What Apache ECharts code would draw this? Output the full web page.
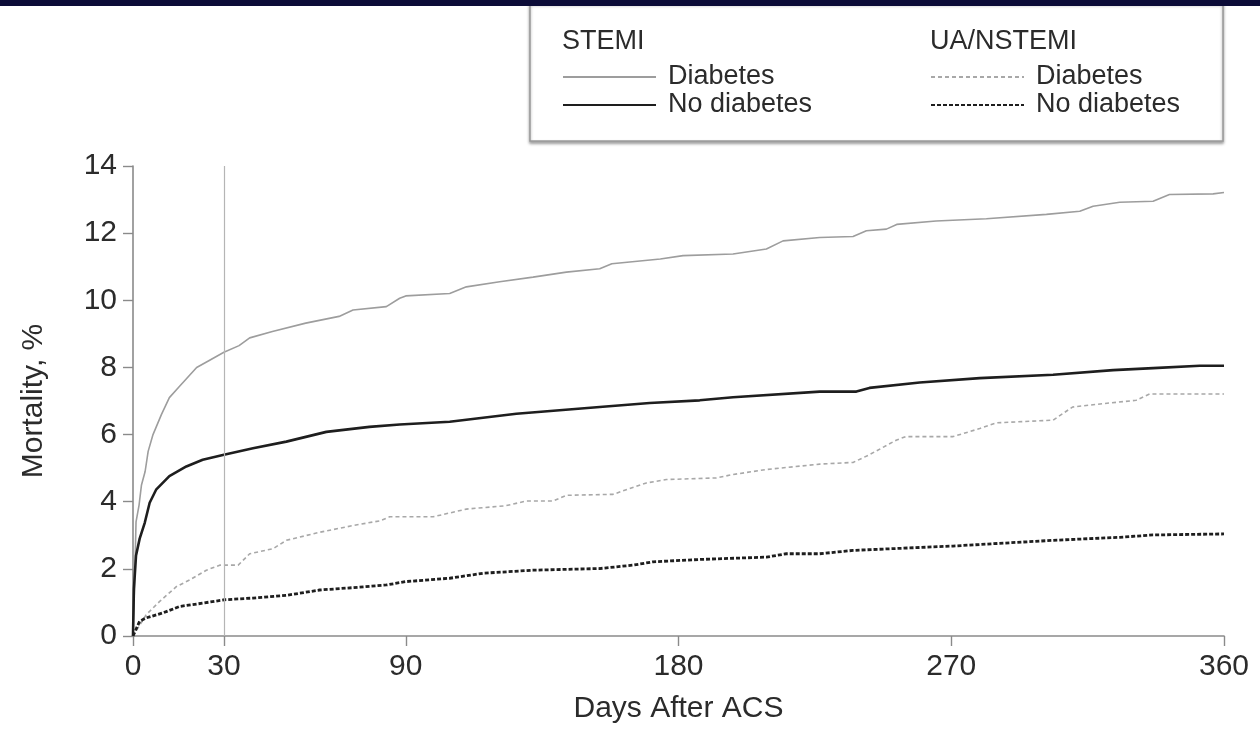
<!DOCTYPE html>
<html>
<head>
<meta charset="utf-8">
<script src="https://cdn.jsdelivr.net/npm/echarts@6.0.0/dist/echarts.min.js"></script>
<style>
html,body{margin:0;padding:0;background:#fff;}
#chart{width:1260px;height:729px;}
</style>
</head>
<body>
<div id="chart"></div>
<script>
// ---- data ----
const xTickValues = [0, 30, 90, 180, 270, 360];
const yTickValues = [0, 2, 4, 6, 8, 10, 12, 14];
const legendGroups = ['STEMI', 'UA/NSTEMI'];
const seriesLabels = ['Diabetes', 'No diabetes'];
const xAxisTitle = 'Days After ACS';
const yAxisTitle = 'Mortality, %';

// [day, mortality %]
const stemiDiabetes = [[0,0],[0.5,1.5],[1,3.4],[2,3.9],[2.8,4.5],[4,4.9],[5,5.5],[6.6,6.0],[9.4,6.6],[12,7.1],[15,7.4],[18,7.7],[21,8.0],[25,8.2],[30,8.45],[35,8.65],[38.5,8.88],[46,9.07],[57,9.32],[68,9.52],[72.6,9.71],[83.6,9.81],[88,10.06],[90,10.13],[104.5,10.2],[110,10.4],[121,10.55],[132,10.69],[143,10.84],[154,10.94],[158,11.09],[174,11.23],[181.5,11.33],[198,11.38],[209,11.53],[214.5,11.77],[226.6,11.87],[237.6,11.9],[242,12.07],[248.6,12.12],[252,12.26],[265,12.36],[281.6,12.43],[301.4,12.56],[312.4,12.65],[316.8,12.8],[325.6,12.92],[336.6,12.95],[342,13.15],[356.4,13.17],[360,13.21]];
const stemiNoDiabetes = [[0,0],[0.3,1.4],[1,2.4],[2.2,2.9],[3.9,3.38],[5.5,3.97],[7.7,4.37],[12,4.76],[17.6,5.05],[23,5.25],[30,5.4],[39.6,5.59],[50.6,5.79],[63.8,6.08],[78,6.23],[88,6.3],[104.5,6.38],[126.5,6.62],[154,6.82],[170.5,6.94],[187,7.02],[198,7.11],[226.6,7.28],[238.7,7.28],[243,7.39],[259.6,7.55],[279.4,7.68],[303.6,7.78],[323.4,7.92],[336.6,7.98],[352,8.05],[360,8.05]];
const nstemiDiabetes = [[0,0],[4.4,0.64],[8.8,1.03],[14.3,1.47],[18.7,1.67],[24.2,1.96],[28.6,2.11],[34.7,2.11],[38.5,2.45],[46.2,2.6],[50.6,2.85],[61.6,3.09],[72.6,3.29],[81.4,3.43],[84.7,3.55],[99,3.55],[110,3.78],[123,3.88],[129.8,4.02],[138.6,4.02],[143,4.19],[158.4,4.22],[169.4,4.56],[176,4.66],[192.5,4.71],[198,4.81],[209,4.96],[226.6,5.12],[237.6,5.17],[243,5.4],[252,5.84],[255,5.94],[270.6,5.94],[279.4,6.18],[285,6.35],[303.6,6.43],[310,6.82],[320,6.92],[331,7.02],[335.5,7.21],[360,7.21]];
const nstemiNoDiabetes = [[0,0],[2.2,0.44],[4.4,0.54],[9.9,0.69],[15.4,0.88],[23.1,0.98],[30.2,1.08],[39.6,1.13],[50.6,1.21],[61.6,1.37],[72.6,1.44],[83.6,1.52],[90,1.62],[104.5,1.72],[115.5,1.87],[132,1.96],[154,2.01],[165,2.11],[171.6,2.21],[187,2.28],[209,2.35],[215.6,2.45],[226.6,2.45],[237.6,2.55],[270.6,2.68],[303.6,2.85],[325.6,2.94],[336.6,3.01],[360,3.04]];
const markerDay = 30;

// ---- chart ----
const FONT = '"Liberation Sans", Arial, Helvetica, sans-serif';
const TXT = '#2b2b2b';
const AX = '#8a8a8a';
const chart = echarts.init(document.getElementById('chart'), null, {renderer: 'canvas'});

function mk(name, data, color, width, dash) {
  return {
    name: name, type: 'line', data: data, symbol: 'none', showSymbol: false,
    lineStyle: {color: color, width: width, type: dash || 'solid'},
    itemStyle: {color: color},
    emphasis: {disabled: true}, silent: true, z: 3
  };
}

const series = [
  mk(legendGroups[0] + '|' + seriesLabels[0], stemiDiabetes, '#9d9d9d', 1.6),
  mk(legendGroups[0] + '|' + seriesLabels[1], stemiNoDiabetes, '#1e1e1e', 2.6),
  mk(legendGroups[1] + '|' + seriesLabels[0], nstemiDiabetes, '#a8a8a8', 1.6, [4, 3]),
  mk(legendGroups[1] + '|' + seriesLabels[1], nstemiNoDiabetes, '#1e1e1e', 2.8, [4, 2])
];
series[0].markLine = {
  silent: true, symbol: ['none', 'none'], label: {show: false},
  lineStyle: {color: '#b5b5b5', width: 1.2, type: 'solid'},
  data: [{xAxis: markerDay}], animation: false
};

const legendCommon = {
  orient: 'vertical', padding: 0, itemWidth: 93, itemHeight: 14, itemGap: 0,
  selectedMode: false,
  itemStyle: {opacity: 0},
  formatter: function (n) { return n.split('|')[1]; },
  textStyle: {fontFamily: FONT, fontSize: 27, color: TXT, lineHeight: 28, padding: [0, 0, 0, 7]}
};

chart.setOption({
  animation: false,
  backgroundColor: '#ffffff',
  grid: {left: 133, right: 36, top: 166, bottom: 87, containLabel: false},
  xAxis: {
    type: 'value', min: 0, max: 360,
    name: xAxisTitle, nameLocation: 'middle', nameGap: 58,
    nameTextStyle: {fontFamily: FONT, fontSize: 30, color: TXT},
    axisLine: {show: true, lineStyle: {color: AX, width: 1.6}},
    axisTick: {show: true, length: 10, lineStyle: {color: AX, width: 1.4}, customValues: xTickValues},
    axisLabel: {fontFamily: FONT, fontSize: 30, color: TXT, margin: 16, customValues: xTickValues},
    splitLine: {show: false}
  },
  yAxis: {
    type: 'value', min: 0, max: 14, interval: 2,
    name: yAxisTitle, nameLocation: 'middle', nameGap: 84, nameRotate: 90,
    nameTextStyle: {fontFamily: FONT, fontSize: 30, color: TXT},
    axisLine: {show: true, lineStyle: {color: AX, width: 1.6}},
    axisTick: {show: true, length: 10, lineStyle: {color: AX, width: 1.4}},
    axisLabel: {fontFamily: FONT, fontSize: 30, color: TXT, margin: 16,
      formatter: function (v) { return yTickValues.indexOf(v) >= 0 ? String(v) : ''; }},
    splitLine: {show: false}
  },
  legend: [
    Object.assign({}, legendCommon, {left: 562, top: 63, data: [series[0].name, series[1].name]}),
    Object.assign({}, legendCommon, {left: 930, top: 63, data: [series[2].name, series[3].name]})
  ],
  graphic: [
    {type: 'rect', z: 0, shape: {x: 530, y: 3, width: 693, height: 138},
     style: {fill: '#fff', stroke: '#9a9a9a', lineWidth: 1.5,
       shadowBlur: 3, shadowOffsetY: 2, shadowOffsetX: 0, shadowColor: 'rgba(0,0,0,0.35)'}},
    {type: 'text', z: 5, left: 562, top: 28,
     style: {text: legendGroups[0], fontFamily: FONT, fontSize: 27, fill: TXT}},
    {type: 'text', z: 5, left: 930, top: 28,
     style: {text: legendGroups[1], fontFamily: FONT, fontSize: 27, fill: TXT}},
    {type: 'rect', z: 100, shape: {x: 0, y: 0, width: 1260, height: 6}, style: {fill: '#0c0c38'}}
  ],
  series: series
});
</script>
</body>
</html>
